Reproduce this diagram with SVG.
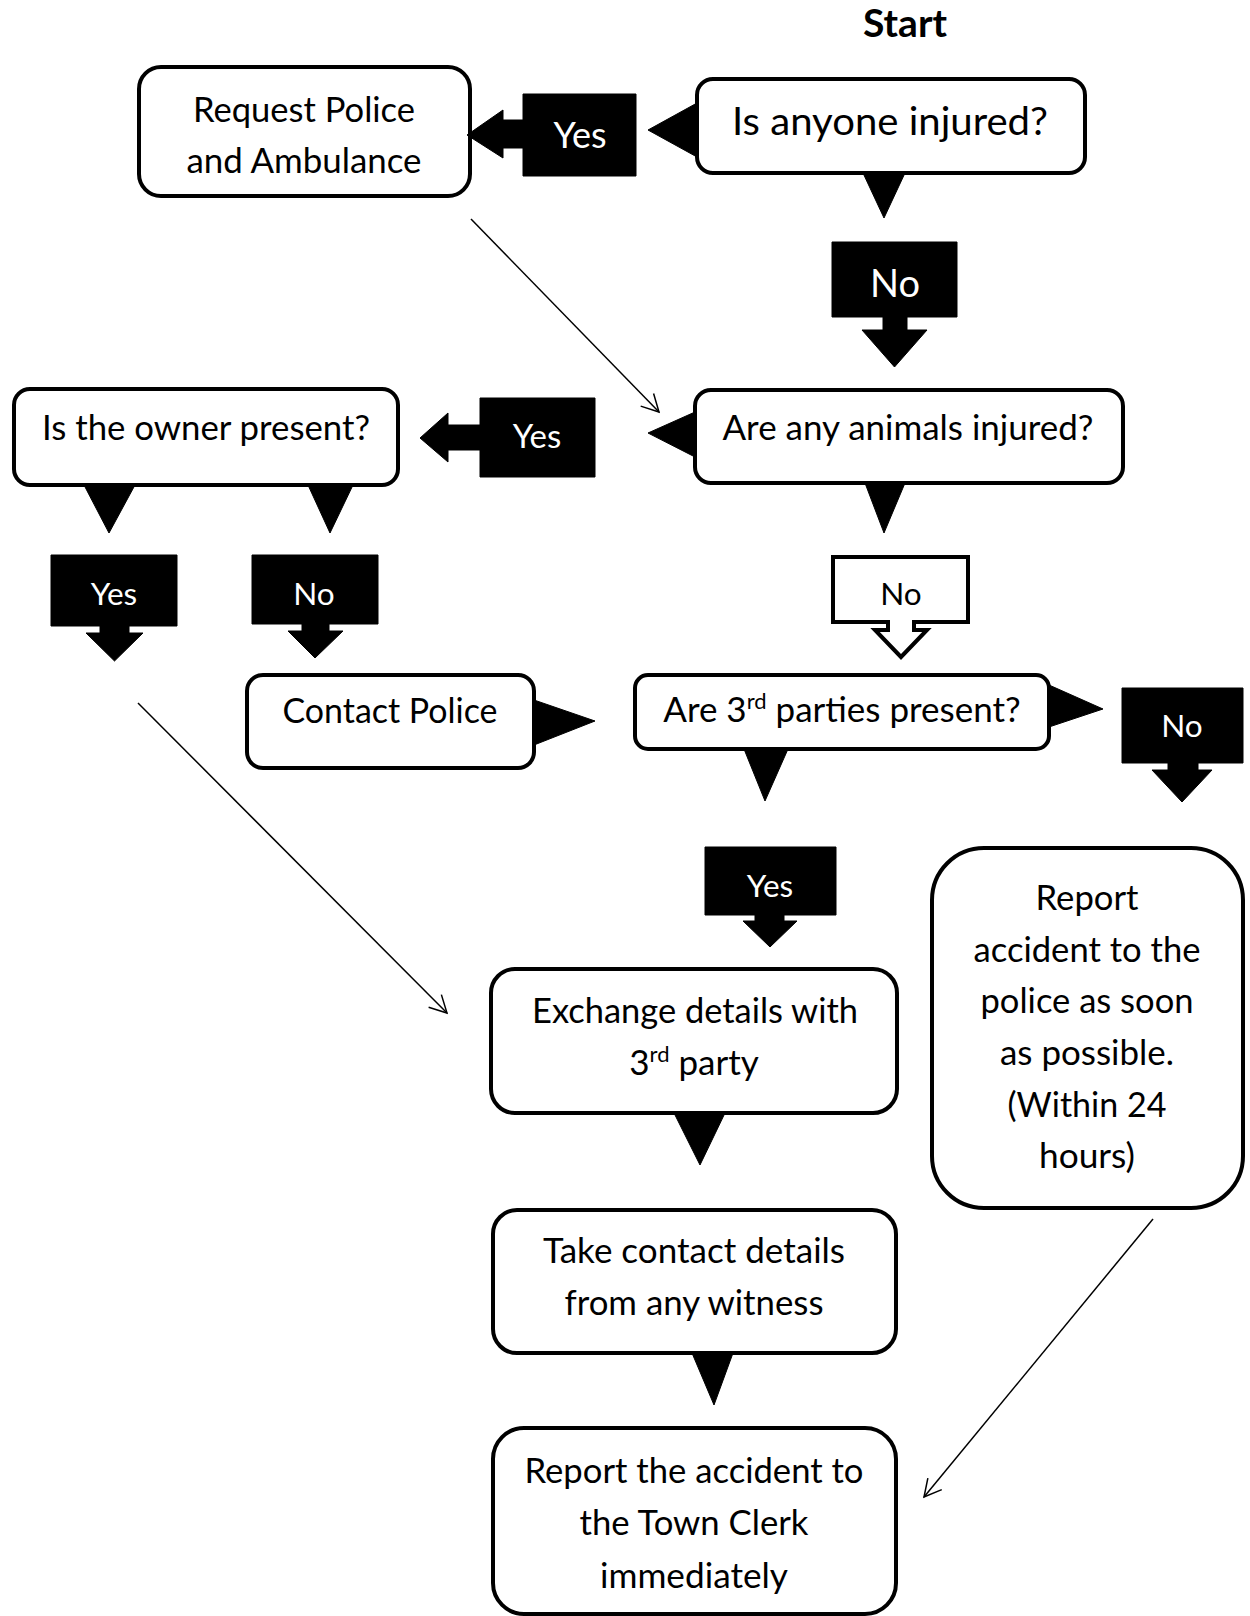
<svg xmlns="http://www.w3.org/2000/svg" width="1250" height="1616" viewBox="0 0 1250 1616">
<style>
  .box { fill: #fff; stroke: #000; stroke-width: 4; }
  .ptr { fill: #000; stroke: #000; stroke-width: 1; stroke-linejoin: round; }
  .lbl { fill: #000; stroke: #000; stroke-width: 1; stroke-linejoin: round; }
  .lblo { fill: #fff; stroke: #000; stroke-width: 4; stroke-linejoin: miter; }
  .t { font-family: Lato, "Liberation Sans", sans-serif; font-size: 35px; fill: #000; text-anchor: middle; }
  .tw { font-family: Lato, "Liberation Sans", sans-serif; font-size: 31.5px; fill: #fff; text-anchor: middle; }
  .tb { font-family: Lato, "Liberation Sans", sans-serif; font-size: 31.5px; fill: #000; text-anchor: middle; }
  .start { font-family: Lato, "Liberation Sans", sans-serif; font-size: 38px; font-weight: 700; fill: #000; text-anchor: middle; }
  .sup { font-size: 22px; }
  .conn { fill: none; stroke: #000; stroke-width: 1.5; }
</style>
<defs>
  <marker id="open" markerUnits="userSpaceOnUse" viewBox="-20 -12 22 24" markerWidth="22" markerHeight="24" refX="0" refY="0" orient="auto">
    <path d="M-17,-9 L0,0 L-17,9" fill="none" stroke="#000" stroke-width="1.5"/>
  </marker>
</defs>
<rect width="1250" height="1616" fill="#fff"/>

<g id="start">
  <text class="start" x="905" y="37" textLength="84" lengthAdjust="spacingAndGlyphs">Start</text>
</g>

<g id="request-police">
  <rect class="box" x="139" y="67" width="331" height="129" rx="22"/>
  <text class="t" x="304" y="122" textLength="222" lengthAdjust="spacingAndGlyphs">Request Police</text>
  <text class="t" x="304" y="173" textLength="235" lengthAdjust="spacingAndGlyphs">and Ambulance</text>
</g>

<g id="anyone-injured">
  <path class="ptr" d="M697,103 L648,130 L697,157 Z"/>
  <path class="ptr" d="M863,173 L884,218 L905,173 Z"/>
  <rect class="box" x="697" y="79" width="388" height="94" rx="16"/>
  <text class="t" x="890" y="135" style="font-size:39px" textLength="316" lengthAdjust="spacingAndGlyphs">Is anyone injured?</text>
</g>

<g id="owner-present">
  <path class="ptr" d="M84,485 L109,533 L135,485 Z"/>
  <path class="ptr" d="M308,485 L330,533 L353,485 Z"/>
  <rect class="box" x="14" y="389" width="384" height="96" rx="16"/>
  <text class="t" x="206" y="440" textLength="328" lengthAdjust="spacingAndGlyphs">Is the owner present?</text>
</g>

<g id="animals-injured">
  <path class="ptr" d="M695,412 L648,433 L695,457 Z"/>
  <path class="ptr" d="M865,483 L884,533 L905,483 Z"/>
  <rect class="box" x="695" y="390" width="428" height="93" rx="16"/>
  <text class="t" x="908" y="440" textLength="371" lengthAdjust="spacingAndGlyphs">Are any animals injured?</text>
</g>

<g id="contact-police">
  <path class="ptr" d="M534,700 L595,721 L534,745 Z"/>
  <rect class="box" x="247" y="675" width="287" height="93" rx="16"/>
  <text class="t" x="390" y="723" textLength="215" lengthAdjust="spacingAndGlyphs">Contact Police</text>
</g>

<g id="third-parties">
  <path class="ptr" d="M1049,685 L1103,709 L1049,727 Z"/>
  <path class="ptr" d="M744,749 L765,801 L788,749 Z"/>
  <rect class="box" x="635" y="675" width="414" height="74" rx="13"/>
  <text class="t" x="842" y="722">Are 3<tspan class="sup" dy="-13">rd</tspan><tspan dy="13"> parties present?</tspan></text>
</g>

<g id="exchange-details">
  <path class="ptr" d="M674,1113 L700,1165 L725,1113 Z"/>
  <rect class="box" x="491" y="969" width="406" height="144" rx="24"/>
  <text class="t" x="695" y="1023" textLength="326" lengthAdjust="spacingAndGlyphs">Exchange details with</text>
  <text class="t" x="694" y="1075">3<tspan class="sup" dy="-13">rd</tspan><tspan dy="13"> party</tspan></text>
</g>

<g id="take-contact">
  <path class="ptr" d="M692,1353 L714,1405 L733,1353 Z"/>
  <rect class="box" x="493" y="1210" width="403" height="143" rx="24"/>
  <text class="t" x="694" y="1263" textLength="302" lengthAdjust="spacingAndGlyphs">Take contact details</text>
  <text class="t" x="694" y="1315" textLength="259" lengthAdjust="spacingAndGlyphs">from any witness</text>
</g>

<g id="report-town-clerk">
  <rect class="box" x="493" y="1428" width="403" height="186" rx="31"/>
  <text class="t" x="694" y="1483" textLength="339" lengthAdjust="spacingAndGlyphs">Report the accident to</text>
  <text class="t" x="694" y="1535" textLength="229" lengthAdjust="spacingAndGlyphs">the Town Clerk</text>
  <text class="t" x="694" y="1588" textLength="188" lengthAdjust="spacingAndGlyphs">immediately</text>
</g>

<g id="report-police">
  <rect class="box" x="932" y="848" width="311" height="360" rx="52"/>
  <text class="t" x="1087" y="910" textLength="103" lengthAdjust="spacingAndGlyphs">Report</text>
  <text class="t" x="1087" y="962" textLength="227" lengthAdjust="spacingAndGlyphs">accident to the</text>
  <text class="t" x="1087" y="1013" textLength="213" lengthAdjust="spacingAndGlyphs">police as soon</text>
  <text class="t" x="1087" y="1065" textLength="174" lengthAdjust="spacingAndGlyphs">as possible.</text>
  <text class="t" x="1087" y="1117" textLength="159" lengthAdjust="spacingAndGlyphs">(Within 24</text>
  <text class="t" x="1087" y="1168" textLength="96" lengthAdjust="spacingAndGlyphs">hours)</text>
</g>

<g id="label-yes-injured">
  <path class="lbl" d="M636,94 V176 H523 V148 H503 V158 L467,135 L503,110 V120 H523 V94 Z"/>
  <text class="tw" x="580" y="148" style="font-size:36px">Yes</text>
</g>

<g id="label-no-injured">
  <path class="lbl" d="M832,242 H957 V317 H907 V330 H927 L894.5,367 L862,330 H883 V317 H832 Z"/>
  <text class="tw" x="895" y="297" style="font-size:38px">No</text>
</g>

<g id="label-yes-animals">
  <path class="lbl" d="M595,398 V477 H480 V450 H448 V462 L420,438 L448,413 V425 H480 V398 Z"/>
  <text class="tw" x="537" y="448" style="font-size:33px">Yes</text>
</g>

<g id="label-no-animals">
  <path class="lblo" d="M833,557 H968 V622 H914 V630 H927 L901,657 L875,630 H888 V622 H833 Z"/>
  <text class="tb" x="901" y="605">No</text>
</g>

<g id="label-yes-owner">
  <path class="lbl" d="M51,555 H177 V626 H129 V633 H143 L114.5,661 L86,633 H100 V626 H51 Z"/>
  <text class="tw" x="114" y="605">Yes</text>
</g>

<g id="label-no-owner">
  <path class="lbl" d="M252,555 H378 V624 H329 V631 H343 L315,658 L288,631 H302 V624 H252 Z"/>
  <text class="tw" x="314" y="605">No</text>
</g>

<g id="label-no-third">
  <path class="lbl" d="M1122,688 H1243 V763 H1198 V770 H1212 L1182,802 L1152,770 H1168 V763 H1122 Z"/>
  <text class="tw" x="1182" y="737">No</text>
</g>

<g id="label-yes-third">
  <path class="lbl" d="M705,847 H836 V915 H784 V921 H797 L770,947 L743,921 H755 V915 H705 Z"/>
  <text class="tw" x="770" y="897">Yes</text>
</g>

<g id="connectors">
  <line class="conn" x1="471" y1="219" x2="659" y2="412" marker-end="url(#open)"/>
  <line class="conn" x1="138" y1="703" x2="447" y2="1013" marker-end="url(#open)"/>
  <line class="conn" x1="1153" y1="1219" x2="924" y2="1497" marker-end="url(#open)"/>
</g>
</svg>
